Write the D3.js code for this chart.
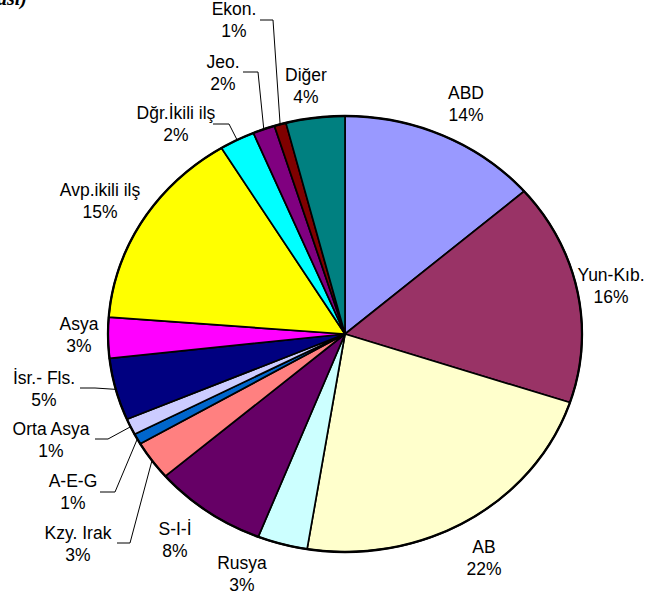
<!DOCTYPE html>
<html>
<head>
<meta charset="utf-8">
<script src="https://cdn.jsdelivr.net/npm/d3@7"></script>
<style>
  html, body { margin: 0; padding: 0; background: #fff; }
  svg { display: block; }
  text { font-family: "Liberation Sans", Arial, sans-serif; fill: #000; }
</style>
</head>
<body>
<svg id="chart" width="656" height="597"></svg>
<script>
// Slices, clockwise from 12 o'clock (shares in percent)
const categories = ["ABD", "Yun-Kıb.", "AB", "Rusya", "S-I-İ", "Kzy. Irak", "A-E-G",
  "Orta Asya", "İsr.- Fls.", "Asya", "Avp.ikili ilş", "Dğr.İkili ilş", "Jeo.", "Ekon.", "Diğer"];
const shares = [13.6, 16.4, 22.4, 3.4, 7.7, 2.9, 0.8, 1.2, 4.6, 3.0, 15.0, 2.4, 1.5, 0.8, 4.0];
const colors = ["#9999FF", "#993366", "#FFFFCC", "#CCFFFF", "#660066", "#FF8080", "#0066CC",
  "#CCCCFF", "#000080", "#FF00FF", "#FFFF00", "#00FFFF", "#800080", "#800000", "#008080"];

// Label layout: centre of the two-line label, and the elbow of the leader (null = no leader)
const labelAt = [[466, 93], [611, 275], [484, 547], [242, 563], [175, 529], [78, 533], [73, 481],
  [51, 429], [44, 378], [79, 324], [100, 190], [176, 113], [223, 62], [234, 9], [306, 75]];
const leaderFrom = [null, null, null, null, null, [[117, 543], [130, 543]], [[100, 492], [115, 492]],
  [[95, 439], [108, 439]], [[80, 388], [95, 388]], null, null, [[213, 124], [229, 124]],
  [[243, 72], [258, 72]], [[260, 20], [273, 20]], null];

const cx = 345, cy = 334, rx = 237, ry = 218;
const svg = d3.select("#chart");
const pct = d3.format(".0%");

// Title fragment at the top-left corner
svg.append("text")
  .attr("x", -3).attr("y", 5)
  .style("font-family", "'Liberation Serif', 'Times New Roman', serif")
  .style("font-weight", "bold").style("font-style", "italic")
  .style("font-size", "20px")
  .text("ası)");

const total = d3.sum(shares);
const pie = d3.pie().sort(null).value(d => d)(shares);
const arc = d3.arc().innerRadius(0).outerRadius(ry);

// Pie drawn as a circle stretched horizontally into an ellipse
const g = svg.append("g")
  .attr("transform", `translate(${cx},${cy}) scale(${rx / ry},1)`);

g.selectAll("path.slice")
  .data(pie)
  .join("path")
  .attr("class", "slice")
  .attr("d", arc)
  .attr("fill", (d, i) => colors[i])
  .attr("stroke", "#000")
  .attr("stroke-width", 1.7)
  .attr("stroke-linejoin", "round")
  .attr("vector-effect", "non-scaling-stroke");

// Outer rim
g.append("ellipse")
  .attr("cx", 0).attr("cy", 0).attr("rx", ry).attr("ry", ry)
  .attr("fill", "none").attr("stroke", "#000").attr("stroke-width", 2.3)
  .attr("vector-effect", "non-scaling-stroke");

// Point on the rim at a slice's middle angle
function rimPoint(d) {
  const a = (d.startAngle + d.endAngle) / 2;
  return [cx + rx * Math.sin(a), cy - ry * Math.cos(a)];
}

// Leader lines
const line = d3.line();
pie.forEach((d, i) => {
  if (!leaderFrom[i]) return;
  const pts = leaderFrom[i].concat([rimPoint(d)]);
  svg.append("path")
    .attr("d", line(pts))
    .attr("fill", "none")
    .attr("stroke", "#000")
    .attr("stroke-width", 1);
});

// Labels: category name over its rounded share
const labels = svg.append("g").selectAll("text")
  .data(pie)
  .join("text")
  .attr("text-anchor", "middle")
  .style("font-size", "17.5px");
labels.append("tspan")
  .attr("x", (d, i) => labelAt[i][0])
  .attr("y", (d, i) => labelAt[i][1] + 6)
  .text((d, i) => categories[i]);
labels.append("tspan")
  .attr("x", (d, i) => labelAt[i][0])
  .attr("y", (d, i) => labelAt[i][1] + 28)
  .text(d => pct(d.data / total));
</script>
</body>
</html>
